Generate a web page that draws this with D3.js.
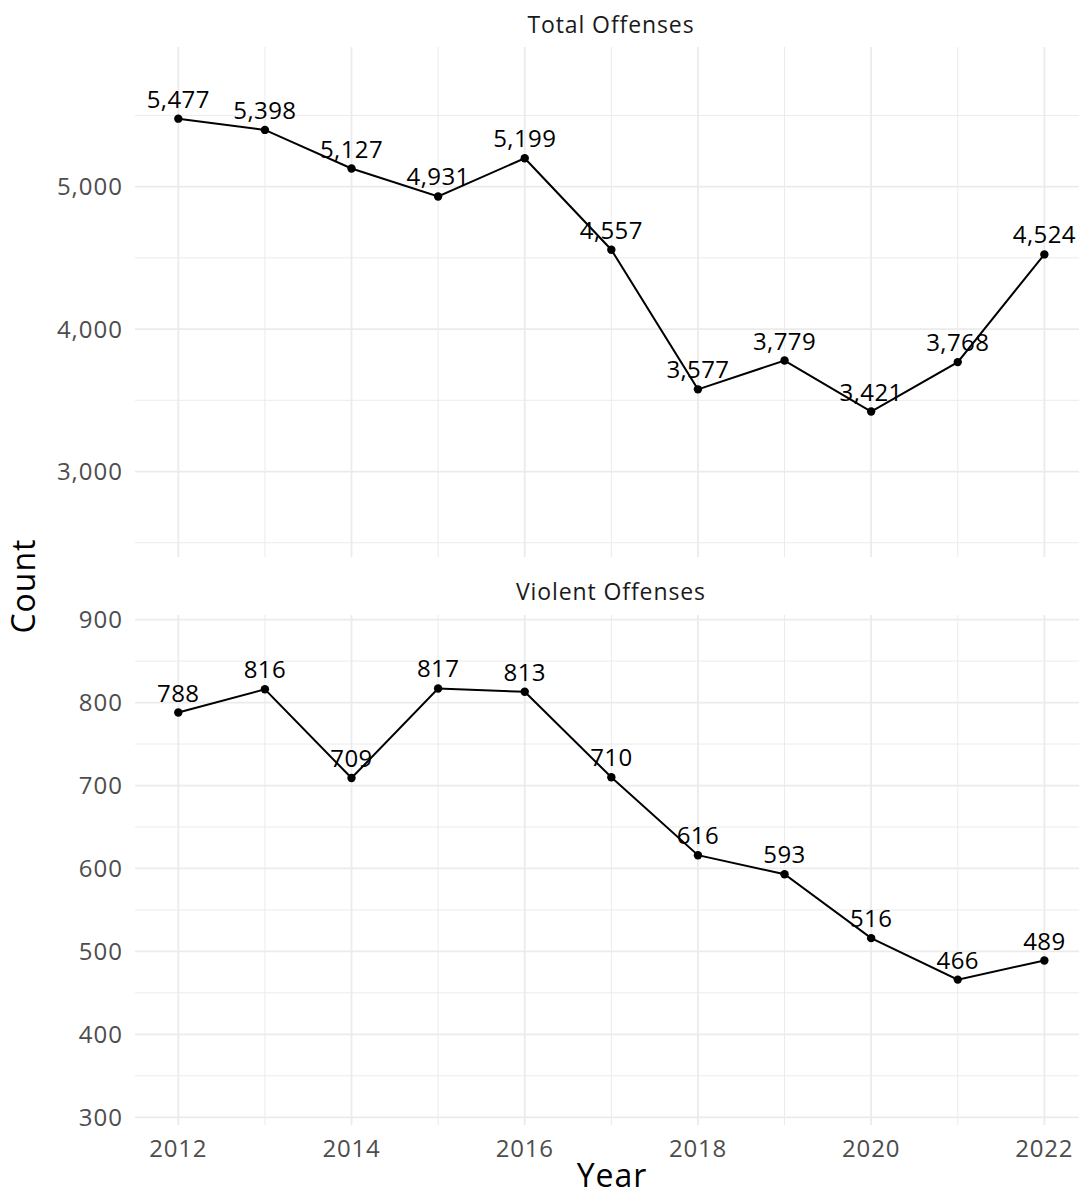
<!DOCTYPE html>
<html><head><meta charset="utf-8">
<script src="https://cdn.jsdelivr.net/npm/d3@7"></script>
<style>body{margin:0;background:#fff;} text{font-family:"Open Sans","Noto Sans",sans-serif;}</style>
</head><body><svg id="c" width="1079" height="1196"></svg>
<script>
const years = [2012,2013,2014,2015,2016,2017,2018,2019,2020,2021,2022];
const totalOffenses = [5477,5398,5127,4931,5199,4557,3577,3779,3421,3768,4524];
const violentOffenses = [788,816,709,817,813,710,616,593,516,466,489];
const panelTitles = ["Total Offenses","Violent Offenses"];
const totalTicks = [3000,4000,5000];
const totalMinor = [2500,3500,4500,5500];
const violentTicks = [300,400,500,600,700,800,900];
const violentMinor = [350,450,550,650,750,850];
const xTicks = [2012,2014,2016,2018,2020,2022];
const xMinor = [2013,2015,2017,2019,2021];

const svg = d3.select("#c");
const x = d3.scaleLinear().domain([2011.5,2022.4]).range([135,1079]);
const fmt = d3.format(",");

const panels = [
  {title:panelTitles[0], vals:totalOffenses, y:d3.scaleLinear().domain([2400,5980]).range([557,47]), ticks:totalTicks, minor:totalMinor, top:47, bottom:557, titleY:33},
  {title:panelTitles[1], vals:violentOffenses, y:d3.scaleLinear().domain([290.7,905.6]).range([1125,615]), ticks:violentTicks, minor:violentMinor, top:615, bottom:1125, titleY:600}
];

panels.forEach(p=>{
  const g = svg.append("g");
  g.selectAll(".hm").data(p.minor).join("line")
    .attr("x1",135).attr("x2",1079).attr("y1",d=>p.y(d)).attr("y2",d=>p.y(d))
    .attr("stroke","#ebebeb").attr("stroke-width",1);
  g.selectAll(".vm").data(xMinor).join("line")
    .attr("x1",d=>x(d)).attr("x2",d=>x(d)).attr("y1",p.top).attr("y2",p.bottom)
    .attr("stroke","#ebebeb").attr("stroke-width",1);
  g.selectAll(".hM").data(p.ticks).join("line")
    .attr("x1",135).attr("x2",1079).attr("y1",d=>p.y(d)).attr("y2",d=>p.y(d))
    .attr("stroke","#ebebeb").attr("stroke-width",1.8);
  g.selectAll(".vM").data(xTicks).join("line")
    .attr("x1",d=>x(d)).attr("x2",d=>x(d)).attr("y1",p.top).attr("y2",p.bottom)
    .attr("stroke","#ebebeb").attr("stroke-width",1.8);
  g.selectAll(".yl").data(p.ticks).join("text")
    .attr("x",123).attr("y",d=>p.y(d)).attr("dy","0.36em")
    .attr("text-anchor","end").attr("fill","#4d4d4d").attr("font-size",24)
    .attr("letter-spacing",1)
    .text(d=>fmt(d));
  g.append("text").attr("x",611).attr("y",p.titleY).attr("text-anchor","middle")
    .attr("fill","#1a1a1a").attr("font-size",23).attr("letter-spacing",0.9).text(p.title);
  const data = years.map((yr,i)=>({yr,v:p.vals[i]}));
  g.append("path").datum(data)
    .attr("d",d3.line().x(d=>x(d.yr)).y(d=>p.y(d.v)))
    .attr("fill","none").attr("stroke","#000").attr("stroke-width",2);
  g.selectAll(".pt").data(data).join("circle")
    .attr("cx",d=>x(d.yr)).attr("cy",d=>p.y(d.v)).attr("r",4.2).attr("fill","#000");
  g.selectAll(".lb").data(data).join("text")
    .attr("x",d=>x(d.yr)).attr("y",d=>p.y(d.v)-11)
    .attr("text-anchor","middle").attr("fill","#000").attr("font-size",24)
    .attr("letter-spacing",0.4)
    .text(d=>fmt(d.v));
});

svg.selectAll(".xl").data(xTicks).join("text")
  .attr("x",d=>x(d)).attr("y",1157).attr("text-anchor","middle")
  .attr("fill","#4d4d4d").attr("font-size",24).attr("letter-spacing",0.8).text(d=>d);

svg.append("text").attr("x",612).attr("y",1187).attr("text-anchor","middle")
  .attr("font-size",32).attr("fill","#000").attr("letter-spacing",1).text("Year");
svg.append("text").attr("transform","translate(35,586) rotate(-90)")
  .attr("text-anchor","middle").attr("font-size",32).attr("fill","#000").attr("letter-spacing",1).text("Count");
</script></body></html>
